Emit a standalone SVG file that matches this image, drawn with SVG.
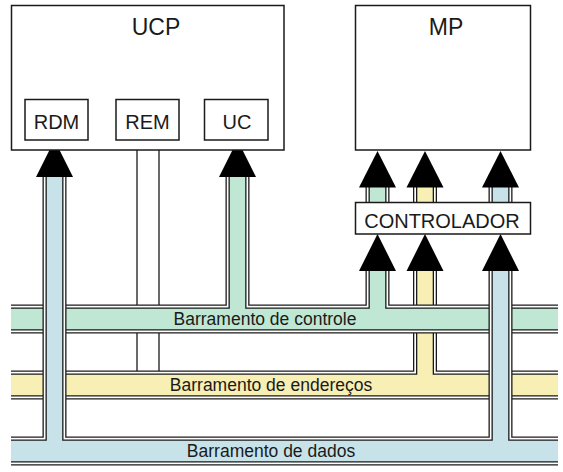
<svg xmlns="http://www.w3.org/2000/svg" xmlns:xlink="http://www.w3.org/1999/xlink" width="563" height="472" viewBox="0 0 563 472">
<style>
.box{fill:#fff;stroke:#1a1a1a;stroke-width:1.5}
.t{font-family:"Liberation Sans",Arial,sans-serif;fill:#1a1a1a;text-anchor:middle}
.big{font-size:23px}
.mid{font-size:20px}
.bus{font-size:17.5px}
.rem{stroke:#1a1a1a;stroke-width:1.3;fill:none}
path,use{fill:none}
.b1{stroke:#1a1a1a;stroke-width:29}
.b2{stroke:#fff;stroke-width:26.4}
.b3{stroke:#1a1a1a;stroke-width:23}
.b4{stroke-width:20.4}
.s1{stroke:#1a1a1a;stroke-width:24}
.s2{stroke:#fff;stroke-width:21.4}
.s3{stroke:#1a1a1a;stroke-width:18}
.s4{stroke-width:15.4}
.g{stroke:#bfe7d3}
.y{stroke:#f7efb3}
.c{stroke:#c7e2e9}
.arr{fill:#000;stroke:none}
</style>
<defs>
<path id="hA" d="M11 385H558"/>
<path id="vA" d="M425 385V270"/>
<path id="hC" d="M11 319H558"/>
<path id="vC" d="M237.5 319V176M377.5 319V270"/>
<path id="hD" d="M11 451H558"/>
<path id="vD" d="M54.5 451V176M500.5 451V270"/>
<path id="sm" d="M377.5 202V186M425 202V186M500.5 202V186"/>
</defs>

<g id="connectors">
<g id="rem-lines">
<path class="rem" d="M137 140V372M159 140V372"/>
</g>
<g id="bus-enderecos">
<use xlink:href="#hA" class="b1"/><use xlink:href="#vA" class="s1"/>
<use xlink:href="#hA" class="b2"/><use xlink:href="#vA" class="s2"/>
<use xlink:href="#hA" class="b3"/><use xlink:href="#vA" class="s3"/>
<use xlink:href="#hA" class="b4 y"/><use xlink:href="#vA" class="s4 y"/>
</g>
<g id="bus-controle">
<use xlink:href="#hC" class="b1"/><use xlink:href="#vC" class="s1"/>
<use xlink:href="#hC" class="b2"/><use xlink:href="#vC" class="s2"/>
<use xlink:href="#hC" class="b3"/><use xlink:href="#vC" class="s3"/>
<use xlink:href="#hC" class="b4 g"/><use xlink:href="#vC" class="s4 g"/>
</g>
<g id="bus-dados">
<use xlink:href="#hD" class="b1"/><use xlink:href="#vD" class="s1"/>
<use xlink:href="#hD" class="b2"/><use xlink:href="#vD" class="s2"/>
<use xlink:href="#hD" class="b3"/><use xlink:href="#vD" class="s3"/>
<use xlink:href="#hD" class="b4 c"/><use xlink:href="#vD" class="s4 c"/>
</g>
<g id="ctrl-to-mp">
<use xlink:href="#sm" class="s1"/>
<use xlink:href="#sm" class="s2"/>
<use xlink:href="#sm" class="s3"/>
<path class="s4 g" d="M377.5 202V186"/>
<path class="s4 y" d="M425 202V186"/>
<path class="s4 c" d="M500.5 202V186"/>
</g>
<g id="arrowheads">
<polygon class="arr" points="54.5,140 73,177 36,177"/>
<polygon class="arr" points="237.5,140 256,177 219,177"/>
<polygon class="arr" points="377.5,151 396,187.5 359,187.5"/>
<polygon class="arr" points="425,151 443.5,187.5 406.5,187.5"/>
<polygon class="arr" points="500.5,151 519,187.5 482,187.5"/>
<polygon class="arr" points="377.5,234 396,271 359,271"/>
<polygon class="arr" points="425,234 443.5,271 406.5,271"/>
<polygon class="arr" points="500.5,234 519,271 482,271"/>
</g>
</g>

<g id="UCP">
<rect class="box" x="11.5" y="5.5" width="272.5" height="144.5"/>
<text class="t big" x="156" y="35">UCP</text>
</g>
<g id="RDM">
<rect class="box" x="25" y="99.5" width="63" height="40.5"/>
<text class="t mid" x="56.5" y="129">RDM</text>
</g>
<g id="REM">
<rect class="box" x="116" y="99.5" width="63" height="40.5"/>
<text class="t mid" x="147.5" y="129">REM</text>
</g>
<g id="UC">
<rect class="box" x="204.5" y="99.5" width="63.5" height="40.5"/>
<text class="t mid" x="237" y="129">UC</text>
</g>
<g id="MP">
<rect class="box" x="355.5" y="5.5" width="175" height="144.5"/>
<text class="t big" x="446" y="35">MP</text>
</g>
<g id="CONTROLADOR">
<rect class="box" x="355.5" y="202.5" width="175" height="31.5"/>
<text class="t mid" x="442" y="228">CONTROLADOR</text>
</g>

<g id="bus-labels">
<text class="t bus" x="265" y="325">Barramento de controle</text>
<text class="t bus" x="271" y="391">Barramento de endereços</text>
<text class="t bus" x="271" y="457">Barramento de dados</text>
</g>
</svg>
